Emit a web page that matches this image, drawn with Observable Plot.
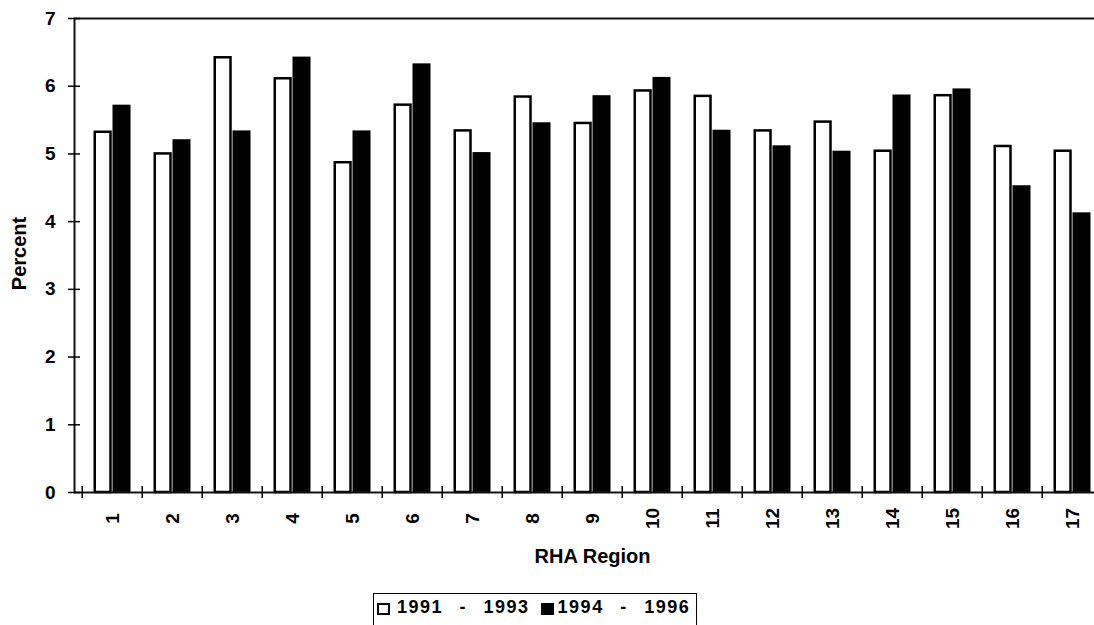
<!DOCTYPE html>
<html>
<head>
<meta charset="utf-8">
<script src="https://cdn.jsdelivr.net/npm/d3@7"></script>
<script src="https://cdn.jsdelivr.net/npm/@observablehq/plot@0.6"></script>
<style>
  html, body { margin: 0; padding: 0; background: #fff; overflow: hidden; }
  body { font-family: "Liberation Sans", Arial, Helvetica, sans-serif; width: 1094px; height: 625px; }
  #legend {
    margin-left: 373px;
    margin-top: 5px;
    width: 324px;
    height: 40px;
    border: 1.5px solid #000;
    border-bottom: none;
    box-sizing: border-box;
    padding-top: 3.5px;
    display: flex;
    align-items: flex-start;
    font-size: 18px;
    font-weight: bold;
    line-height: 18px;
    color: #000;
  }
  #legend .sw { width: 13px; height: 12px; box-sizing: border-box; border: 2.5px solid #000; margin-top: 5px; flex: none; }
  #legend .txt { white-space: pre; word-spacing: 10px; letter-spacing: 1.5px; }
</style>
</head>
<body>
<div id="chart"></div>
<div id="legend"></div>
<script>
// Regions (x categories)
const regions = ["1","2","3","4","5","6","7","8","9","10","11","12","13","14","15","16","17"];
// Period names (series)
const periods = ["1991 - 1993", "1994 - 1996"];
// Percent by region, first period
const early = [5.32, 5.00, 6.42, 6.11, 4.87, 5.72, 5.34, 5.84, 5.45, 5.93, 5.85, 5.34, 5.47, 5.04, 5.86, 5.11, 5.04];
// Percent by region, second period
const late  = [5.72, 5.21, 5.34, 6.43, 5.34, 6.33, 5.02, 5.46, 5.86, 6.13, 5.35, 5.12, 5.04, 5.87, 5.96, 4.53, 4.13];
// Y tick values
const yTicks = [0, 1, 2, 3, 4, 5, 6, 7];
const yTitle = "Percent";
const xTitle = "RHA Region";

const rows = regions.map((r, i) => ({region: r, early: early[i], late: late[i]}));

const W = 1094, H = 588;
const mLeft = 74, mTop = 18, mBottom = 96, mRight = -4;
const xRange = [77, 1106];
const step = (xRange[1] - xRange[0]) / regions.length;
const innerW = W - mLeft - mRight;
const innerH = H - mTop - mBottom;
const font = "'Liberation Sans', Arial, Helvetica, sans-serif";

const chart = Plot.plot({
  width: W,
  height: H,
  marginLeft: mLeft,
  marginTop: mTop,
  marginBottom: mBottom,
  marginRight: mRight,
  style: {fontFamily: font, background: "white", color: "black", overflow: "hidden"},
  x: {type: "band", domain: regions, range: xRange, padding: 0, axis: null},
  y: {domain: [0, 7]},
  marks: [
    // first-period bars: white with black outline
    Plot.barY(rows, {x: "region", y: "early", fill: "white", stroke: "black", strokeWidth: 2.5,
      insetLeft: 12.75, insetRight: 31.5}),
    // second-period bars: solid black
    Plot.barY(rows, {x: "region", y: "late", fill: "black", insetLeft: 30.5, insetRight: 11.5}),
    // plot border
    Plot.frame({stroke: "#111", strokeWidth: 2}),
    // y tick crosses on the axis line
    Plot.ruleY(yTicks, {y: d => d, dx: -6, insetRight: innerW - 12, stroke: "black", strokeWidth: 1.5}),
    // y tick labels
    Plot.axisY(yTicks, {tickSize: 0, tickPadding: 19, fontSize: 19, fontWeight: "bold", label: null,
      tickFormat: d => String(d)}),
    // x tick crosses at category boundaries
    Plot.tickX(regions, {x: d => d, dx: -step / 2, insetTop: innerH - 6, insetBottom: -6,
      stroke: "black", strokeWidth: 1.5}),
    // x tick labels, rotated
    Plot.text(regions, {x: d => d, text: d => d, frameAnchor: "bottom", dy: 26, rotate: -90,
      textAnchor: "middle", lineAnchor: "middle", fontSize: 19, fontWeight: "bold", fill: "black"}),
    // axis titles
    Plot.text([xTitle], {text: d => d, frameAnchor: "bottom", dx: 6, dy: 64, fontSize: 20,
      fontWeight: "bold", textAnchor: "middle", lineAnchor: "middle", fill: "black"}),
    Plot.text([yTitle], {text: d => d, frameAnchor: "left", dx: -55, dy: -2, rotate: -90, fontSize: 20,
      fontWeight: "bold", textAnchor: "middle", lineAnchor: "middle", fill: "black"})
  ]
});
document.getElementById("chart").appendChild(chart);

// legend
const legend = d3.select("#legend");
const swatchFill = ["white", "black"];
const swatchGap = [[3, 7], [11, 4]];
periods.forEach((p, i) => {
  legend.append("span").attr("class", "sw")
    .style("background", swatchFill[i])
    .style("margin-left", swatchGap[i][0] + "px")
    .style("margin-right", swatchGap[i][1] + "px");
  legend.append("span").attr("class", "txt").text(p);
});
</script>
</body>
</html>
